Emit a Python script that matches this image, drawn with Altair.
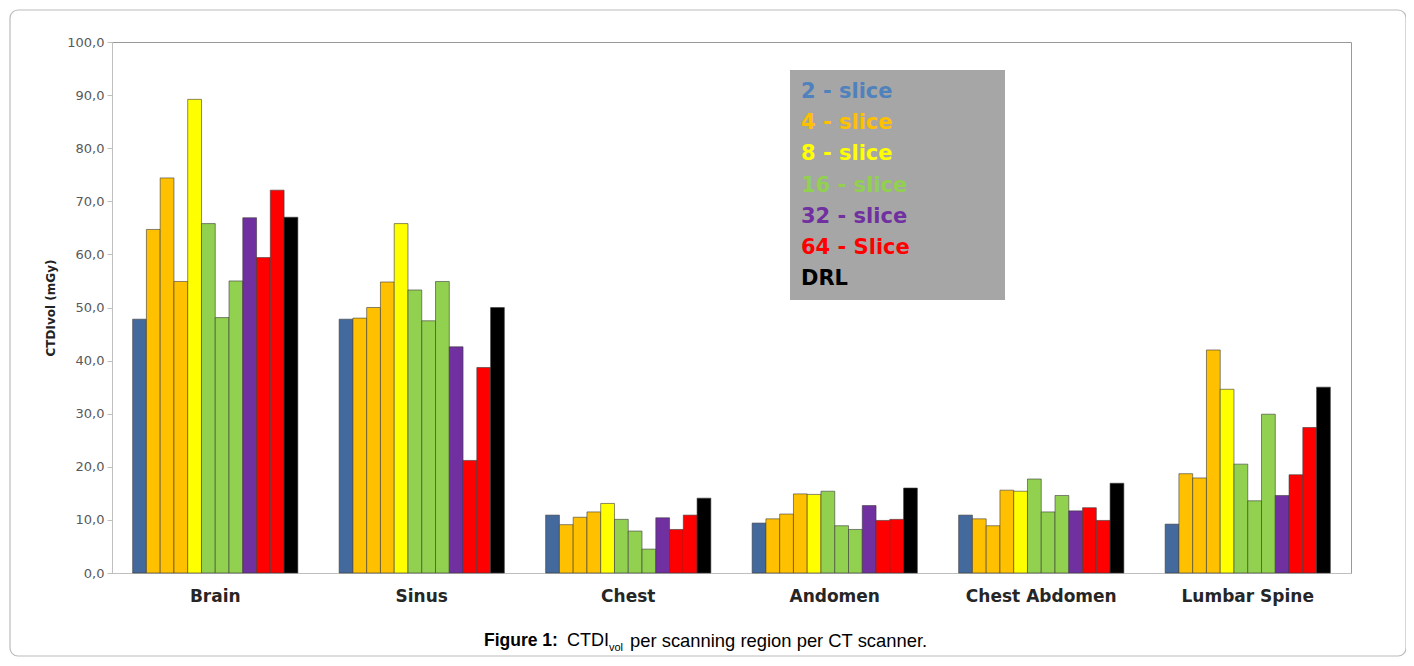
import altair as alt
import pandas as pd

regions = ["Brain", "Sinus", "Chest", "Andomen", "Chest Abdomen", "Lumbar Spine"]

series_names = ["2 - slice", "4 - slice", "8 - slice", "16 - slice", "32 - slice", "64 - Slice", "DRL"]
bar_colors = ["#44699C", "#FFC000", "#FFFF00", "#92D050", "#7030A0", "#FF0000", "#000000"]
legend_text_colors = ["#4F81BD", "#FFC000", "#FFFF00", "#92D050", "#7030A0", "#FF0000", "#000000"]

# one array per scanner (values per region, in region order)
slice2 = [47.8, 47.8, 10.9, 9.4, 10.9, 9.2]
slice4_a = [64.7, 48.0, 9.1, 10.2, 10.2, 18.7]
slice4_b = [74.4, 50.0, 10.5, 11.1, 8.9, 17.9]
slice4_c = [54.9, 54.8, 11.5, 14.9, 15.6, 42.0]
slice8 = [89.2, 65.8, 13.1, 14.8, 15.4, 34.6]
slice16_a = [65.8, 53.3, 10.1, 15.4, 17.7, 20.5]
slice16_b = [48.1, 47.5, 7.9, 8.9, 11.5, 13.6]
slice16_c = [55.0, 54.9, 4.5, 8.2, 14.6, 29.9]
slice32 = [66.9, 42.6, 10.4, 12.7, 11.7, 14.6]
slice64_a = [59.4, 21.2, 8.2, 9.9, 12.3, 18.5]
slice64_b = [72.1, 38.7, 10.9, 10.1, 9.9, 27.4]
drl = [67.0, 50.0, 14.1, 16.0, 16.9, 35.0]

scanners = [
    ("2 - slice", slice2),
    ("4 - slice", slice4_a),
    ("4 - slice", slice4_b),
    ("4 - slice", slice4_c),
    ("8 - slice", slice8),
    ("16 - slice", slice16_a),
    ("16 - slice", slice16_b),
    ("16 - slice", slice16_c),
    ("32 - slice", slice32),
    ("64 - Slice", slice64_a),
    ("64 - Slice", slice64_b),
    ("DRL", drl),
]

rows = []
for bar_idx, (name, vals) in enumerate(scanners):
    for region, v in zip(regions, vals):
        rows.append({"region": region, "bar": bar_idx, "series": name, "value": v})
df = pd.DataFrame(rows)

legend_df = pd.DataFrame({
    "name": series_names,
    "tc": legend_text_colors,
    "row": list(range(len(series_names))),
})

W, H = 1239, 531

bars = alt.Chart(df).mark_bar(stroke="#3a3a3a", strokeWidth=0.8, strokeOpacity=0.75).encode(
    x=alt.X("region:N", sort=regions,
            scale=alt.Scale(paddingInner=0.2, paddingOuter=0.1),
            axis=alt.Axis(title=None, ticks=False, labelAngle=0, labelFontSize=17,
                          labelFont="DejaVu Sans", labelFontWeight="bold", labelColor="#262626",
                          labelPadding=15, domainColor="#BFBFBF", domainWidth=1.2)),
    xOffset=alt.XOffset("bar:O", scale=alt.Scale(paddingInner=0, paddingOuter=0)),
    y=alt.Y("value:Q", scale=alt.Scale(domain=[0, 100], nice=False),
            axis=alt.Axis(title="CTDIvol (mGy)", values=list(range(0, 101, 10)),
                          labelExpr="replace(format(datum.value, '.1f'), '.', ',')",
                          grid=False, tickSize=5, tickColor="#BFBFBF", domainColor="#BFBFBF",
                          labelPadding=3, labelColor="#595959", labelFontSize=13,
                          labelFont="DejaVu Sans", titleFont="DejaVu Sans", titleFontSize=12,
                          titleFontWeight=600, titleColor="#222222", titlePadding=9)),
    color=alt.Color("series:N", scale=alt.Scale(domain=series_names, range=bar_colors), legend=None),
)

one = alt.Data(values=[{}])

legend_box = alt.Chart(one).mark_rect(color="#A6A6A6").encode(
    x=alt.value(678), x2=alt.value(893), y=alt.value(28), y2=alt.value(258)
)

legend_text = alt.Chart(legend_df).transform_calculate(
    py="50 + datum.row * 31.2"
).mark_text(align="left", baseline="middle", fontSize=21, fontWeight="bold",
            font="DejaVu Sans").encode(
    x=alt.value(689),
    y=alt.Y("py:Q", scale=None, axis=None),
    text="name:N",
    color=alt.Color("tc:N", scale=None, legend=None),
)

frame = alt.Chart(one).mark_rect(filled=False, stroke="#BBBBBB", strokeWidth=1.2,
                                 cornerRadius=8, clip=False).encode(
    x=alt.value(-102), x2=alt.value(1294), y=alt.value(-32), y2=alt.value(614)
)

cap_font = "Liberation Sans"
cap1 = alt.Chart(one).mark_text(text="Figure 1:", align="left", baseline="middle",
                                fontSize=17.5, fontWeight="bold", font=cap_font, color="#000").encode(
    x=alt.value(372), y=alt.value(599))
cap2 = alt.Chart(one).mark_text(text="CTDI", align="left", baseline="middle",
                                fontSize=18, font=cap_font, color="#000").encode(
    x=alt.value(455), y=alt.value(599))
cap3 = alt.Chart(one).mark_text(text="vol", align="left", baseline="middle",
                                fontSize=11, font=cap_font, color="#000").encode(
    x=alt.value(497), y=alt.value(606))
cap4 = alt.Chart(one).mark_text(text="per scanning region per CT scanner.", align="left",
                                baseline="middle", fontSize=18.4, font=cap_font, color="#000").encode(
    x=alt.value(518), y=alt.value(599))

chart = alt.layer(
    bars, legend_box, legend_text, frame, cap1, cap2, cap3, cap4
).resolve_scale(
    y="independent", color="independent"
).properties(
    width=W, height=H,
    autosize=alt.AutoSizeParams(type="none"),
    padding={"left": 104, "top": 34, "right": 55, "bottom": 84},
    background="white",
).configure_view(stroke="#999999", strokeWidth=1)

chart.save("out.html", embed_options={"renderer": "svg", "actions": False})
